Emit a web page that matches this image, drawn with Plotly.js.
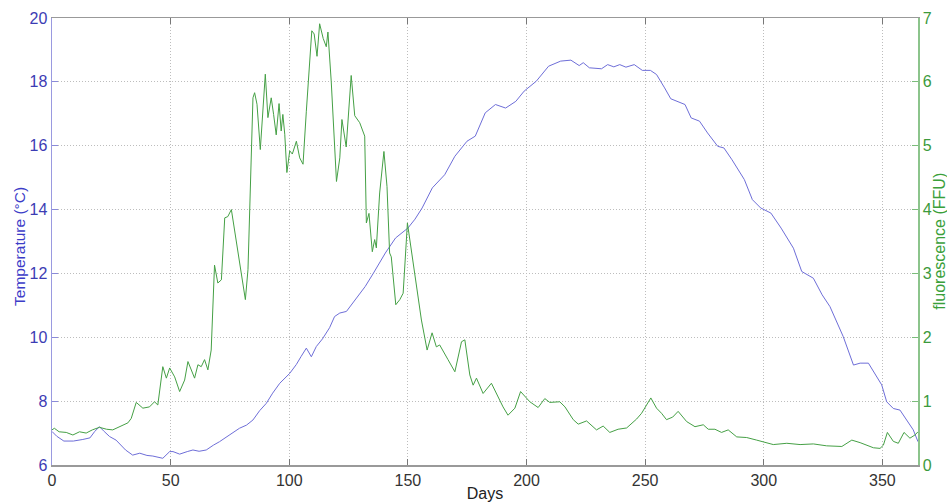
<!DOCTYPE html>
<html>
<head>
<meta charset="utf-8">
<script src="https://cdn.plot.ly/plotly-3.0.1.min.js"></script>
<style>html,body{margin:0;padding:0;background:#fff;}#chart{width:947px;height:503px;}</style>
</head>
<body>
<div id="chart"></div>
<script>
// Temperature (°C) series
const tempDays = [0,2,5,9,13,16,18,20,22,24.3,27,31,34,37,40,42.5,46.7,48.2,49.6,51,53.8,57,59.4,62,65,68,70.6,75,79,82,84.7,87.5,90.3,93,96,100.2,103,105,107.2,109.3,111.4,114,117,119.1,121.3,124.1,127.7,132,135.4,140.5,144.8,150,153,156,160.3,165.5,169.8,174.9,178.4,182.6,186.9,191.2,195.5,199,204.1,209.3,214.4,218.7,222.2,223.9,226.5,231.6,234.2,236.8,239.3,241.9,245.4,248.8,252.2,254.8,258.2,260.8,266.8,269.4,272.9,276.3,280.6,283.2,286.6,291.8,295.2,298.7,303,307.3,312.5,316,320.9,324.6,327.9,333.5,337.8,340.6,344.1,346.9,349.7,351.8,354.6,357.4,360.3,363,365];
const tempVals = [7.05,6.9,6.75,6.75,6.8,6.85,7.05,7.2,7.05,6.89,6.78,6.47,6.31,6.37,6.3,6.28,6.21,6.31,6.42,6.42,6.34,6.42,6.47,6.43,6.47,6.62,6.73,6.95,7.15,7.25,7.41,7.7,7.93,8.25,8.56,8.87,9.15,9.4,9.66,9.39,9.71,9.95,10.3,10.65,10.76,10.81,11.17,11.59,12.0,12.64,13.11,13.42,13.7,14.05,14.68,15.09,15.67,16.14,16.3,17.03,17.29,17.18,17.39,17.71,18.02,18.49,18.65,18.68,18.51,18.6,18.44,18.41,18.54,18.47,18.54,18.46,18.54,18.36,18.36,18.23,17.81,17.47,17.29,16.87,16.77,16.4,15.98,15.93,15.56,14.94,14.31,14.05,13.89,13.42,12.79,12.06,11.85,11.33,10.96,10.02,9.13,9.19,9.19,8.87,8.51,7.98,7.77,7.72,7.41,7.10,6.73];

// Fluorescence (FFU) series
const fluoDays = [0,1,3,6,8.8,11.6,14.4,17,20,23,25.6,28.5,32,33.4,35.5,38.3,41.1,43.2,44.6,46.7,48.2,49.6,51.7,53.8,55.9,57.3,58.7,60.1,61.5,62.9,64.3,65.7,67.1,68.5,69.9,71.4,72.8,74.1,75.6,77,79.1,81.5,82.6,83.6,84.7,85.4,86.4,87.8,88.6,89.9,91,92.4,93.4,94.5,95.7,96.6,97.3,98.1,99,100.2,101.3,103,104.4,105.8,107.2,108.3,109.5,110.5,111.7,112.8,114.3,115.6,116.3,117.7,119.9,121.3,122.2,124,125.2,126.1,127.6,129.7,131.8,132.5,133.6,135,136,136.7,138.1,139.9,141.2,142.3,143,144.9,146.6,148,149.8,151.5,153.6,155.7,158.1,160.2,162,163.4,166.9,169.8,172.6,174,176.1,177.5,178.9,181.7,185.2,188,190.1,192.2,195.1,197.5,199.3,201.4,204.9,207.7,209.8,214,216.2,219.7,221.8,225.3,229.5,232.3,235.1,238.6,242.2,246.4,248.5,252.4,254.8,256.9,259,261.6,263.9,267.5,271,274.5,276.6,279.4,282.2,285,288.6,292.8,297,299.8,304,309.7,315.3,320.9,326.5,332.9,337.1,340.6,346.2,349,350.4,352.1,354.6,356.7,359.1,361.6,363.7,365];
const fluoVals = [0.55,0.575,0.52,0.51,0.47,0.52,0.50,0.55,0.59,0.56,0.55,0.60,0.66,0.73,0.98,0.89,0.91,0.99,0.94,1.54,1.36,1.52,1.38,1.15,1.33,1.62,1.49,1.36,1.57,1.54,1.65,1.49,1.80,3.13,2.85,2.90,3.87,3.89,4.0,3.66,3.21,2.59,3.06,4.18,5.75,5.83,5.65,4.94,5.44,6.12,5.44,5.75,5.49,5.17,5.66,5.23,5.49,5.18,4.58,4.92,4.87,5.07,4.81,4.71,5.54,6.2,6.80,6.75,6.40,6.91,6.68,6.55,6.78,6.0,4.44,4.81,5.41,4.98,5.65,6.10,5.47,5.36,5.15,3.79,3.94,3.34,3.53,3.40,4.26,4.91,4.36,3.32,3.26,2.51,2.59,2.69,3.79,3.37,2.85,2.27,1.80,2.07,1.85,1.88,1.65,1.46,1.93,1.96,1.41,1.25,1.36,1.12,1.28,1.07,0.91,0.78,0.89,1.15,1.07,0.99,0.90,1.04,0.98,0.99,0.91,0.71,0.64,0.69,0.55,0.61,0.51,0.56,0.58,0.72,0.81,1.05,0.89,0.81,0.71,0.75,0.84,0.68,0.60,0.63,0.56,0.56,0.51,0.55,0.44,0.43,0.39,0.36,0.32,0.34,0.32,0.33,0.30,0.29,0.39,0.35,0.27,0.26,0.31,0.51,0.37,0.34,0.51,0.42,0.47,0.52];

const xTicks = [0,50,100,150,200,250,300,350];
const yTicks = [6,8,10,12,14,16,18,20];
const y2Ticks = [0,1,2,3,4,5,6,7];

const blue = '#6e6ed8';
const green = '#45a045';
const font = 'Liberation Sans, Arial, sans-serif';
const gridDash = '1px,2px';

const traces = [
  {x: tempDays, y: tempVals, type: 'scatter', mode: 'lines', yaxis: 'y',
   line: {color: blue, width: 1}, hoverinfo: 'skip'},
  {x: fluoDays, y: fluoVals, type: 'scatter', mode: 'lines', yaxis: 'y2',
   line: {color: green, width: 1}, hoverinfo: 'skip'}
];

const layout = {
  width: 947, height: 503,
  margin: {l: 52, r: 29, t: 18, b: 38, pad: 0},
  paper_bgcolor: '#fff', plot_bgcolor: '#fff',
  showlegend: false,
  font: {family: font, size: 16, color: '#333'},
  xaxis: {
    range: [0, 365], tickvals: xTicks, ticktext: xTicks.map(String),
    ticks: 'inside', ticklen: 6, tickcolor: '#777',
    showline: true, linecolor: '#999', linewidth: 1.5, mirror: 'ticks',
    showgrid: true, gridcolor: '#bdbdbd', griddash: gridDash, gridwidth: 1,
    zeroline: false,
    tickfont: {family: font, size: 16, color: '#333'},
    title: {text: 'Days', font: {family: font, size: 16, color: '#222'}, standoff: 0}
  },
  yaxis: {
    range: [6, 20], tickvals: yTicks, ticktext: yTicks.map(String),
    ticks: 'inside', ticklen: 6, tickcolor: '#8a8ad8',
    showline: true, linecolor: '#9a9ae0', linewidth: 1.5,
    showgrid: true, gridcolor: '#bdbdbd', griddash: gridDash, gridwidth: 1,
    zeroline: false,
    tickfont: {family: font, size: 16, color: '#3c3cb4'}
  },
  yaxis2: {
    range: [0, 7], tickvals: y2Ticks, ticktext: y2Ticks.map(String),
    overlaying: 'y', side: 'right',
    ticks: 'inside', ticklen: 6, tickcolor: '#7cbc7c',
    showline: true, linecolor: '#8cc48c', linewidth: 1.5,
    showgrid: false, zeroline: false,
    tickfont: {family: font, size: 16, color: '#3c9a3c'}
  },
  annotations: [
    {text: 'Temperature (°C)', xref: 'paper', yref: 'paper', x: -0.037, y: 0.49,
     xanchor: 'center', yanchor: 'middle', textangle: -90, showarrow: false,
     font: {family: font, size: 15.5, color: '#3c3cc8'}},
    {text: 'fluorescence (FFU)', xref: 'paper', yref: 'paper', x: 1.0245, y: 0.5,
     xanchor: 'center', yanchor: 'middle', textangle: -90, showarrow: false,
     font: {family: font, size: 16, color: '#3aa03a'}}
  ]
};

Plotly.newPlot('chart', traces, layout, {staticPlot: true, displayModeBar: false});
</script>
</body>
</html>
